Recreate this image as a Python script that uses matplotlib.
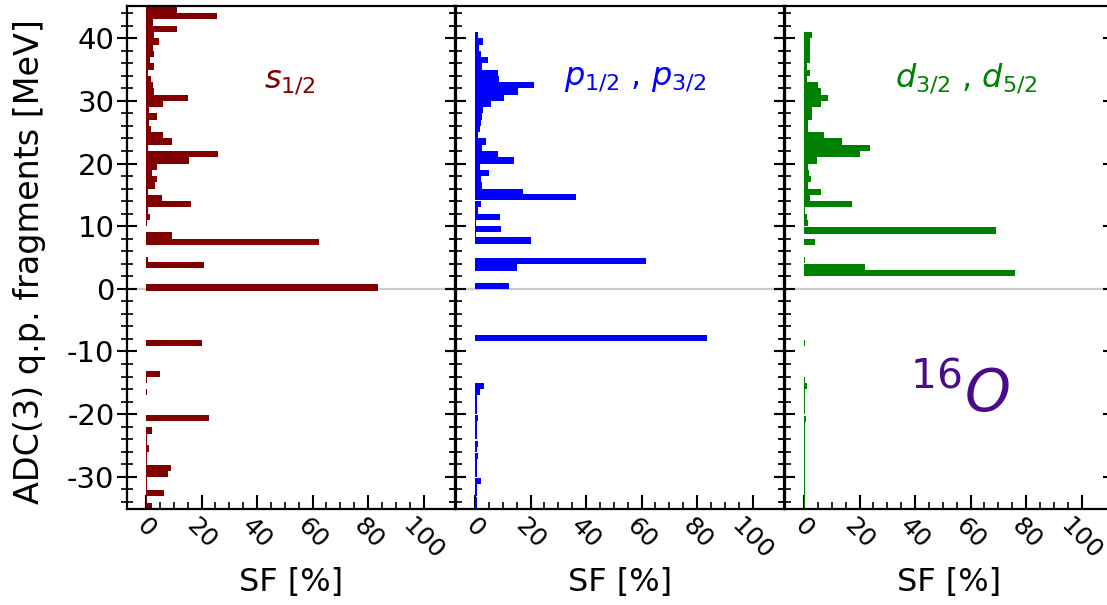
import numpy as np
import matplotlib
matplotlib.use("Agg")
import matplotlib.pyplot as plt
from matplotlib.ticker import FixedLocator, MultipleLocator

# Quasiparticle fragments: energy [MeV] and spectroscopic factor [%]
s_energy = [44.5, 43.5, 42.5, 41.5, 40.5, 39.5, 38.5, 37.5, 36.5, 35.5,
            34.5, 33.5, 32.5, 31.5, 30.5, 29.5, 28.5, 27.5, 26.5, 25.5,
            24.5, 23.5, 22.5, 21.5, 20.5, 19.5, 18.5, 17.5, 16.5, 15.5,
            14.5, 13.5, 12.5, 11.5, 10.5, 8.5, 7.5, 4.6, 3.8, 0.2,
            -8.6, -13.6, -14.6, -16.5, -18.5, -20.6, -22.6, -23.6, -24.6, -25.5,
            -26.6, -27.6, -28.6, -29.6, -30.6, -31.6, -32.6, -33.6, -34.7]
s_sf = [11.3, 25.7, 2.6, 11.3, 2.9, 4.7, 2.4, 2.9, 1.4, 3.0,
        0.8, 1.7, 2.6, 2.9, 15.3, 6.0, 1.2, 3.8, 1.0, 1.7,
        6.2, 9.2, 0.8, 25.8, 15.5, 4.1, 2.0, 3.8, 3.2, 0.8,
        5.9, 16.1, 0.8, 1.4, 0.5, 9.2, 62.3, 0.7, 20.9, 83.7,
        20.1, 5.0, 0.5, 0.2, 0.1, 22.8, 2.0, 0.3, 0.3, 1.2,
        0.2, 0.2, 8.9, 7.8, 0.3, 0.3, 6.5, 0.5, 2.3]

p_energy = [40.5, 39.5, 38.5, 37.5, 36.5, 35.5, 34.5, 33.5, 32.5, 31.5,
            30.5, 29.5, 28.5, 27.5, 26.5, 25.5, 24.5, 23.5, 22.5, 21.5,
            20.5, 19.5, 18.5, 17.5, 16.5, 15.5, 14.6, 13.5, 12.5, 11.5,
            10.5, 9.5, 8.5, 7.7, 4.4, 3.4, 0.4,
            -7.9, -15.5, -16.5, -17.5, -18.5, -19.5, -20.6, -21.5, -22.5, -23.5,
            -24.8, -25.5, -26.7, -27.5, -28.5, -29.5, -30.7, -31.5, -32.5, -33.8,
            -34.6]
p_sf = [1.2, 2.9, 1.4, 2.0, 4.7, 2.4, 8.4, 8.6, 21.3, 15.5,
        10.5, 5.6, 2.9, 2.6, 2.3, 1.7, 1.2, 3.8, 2.6, 8.4,
        14.1, 1.7, 5.0, 2.0, 2.6, 17.3, 36.3, 2.0, 1.2, 8.9,
        0.3, 9.5, 0.3, 20.1, 61.5, 15.3, 12.3,
        83.7, 3.2, 1.7, 0.6, 0.6, 0.6, 1.2, 0.6, 0.6, 0.6,
        1.0, 0.6, 1.2, 0.6, 0.6, 0.6, 2.3, 0.6, 0.6, 0.8,
        0.6]

d_energy = [40.5, 39.5, 38.5, 37.5, 36.5, 35.5, 34.5, 33.5, 32.5, 31.5,
            30.5, 29.5, 28.5, 27.5, 26.5, 25.5, 24.5, 23.5, 22.5, 21.5,
            20.5, 19.5, 18.5, 17.5, 16.5, 15.5, 14.5, 13.5, 12.5, 11.5,
            10.5, 9.3, 7.5, 4.6, 3.5, 2.5,
            -8.6, -14.5, -15.5, -16.5, -17.5, -18.5, -19.5, -20.8, -21.5, -22.5,
            -23.5, -24.5, -25.5, -26.5, -27.5, -28.5, -29.5, -30.5, -31.5, -32.5,
            -33.5, -34.5]
d_sf = [2.9, 2.3, 2.3, 2.3, 2.3, 1.2, 2.0, 1.2, 5.0, 6.2,
        8.6, 6.0, 2.9, 2.9, 1.4, 1.4, 7.2, 13.7, 23.7, 20.1,
        4.7, 1.4, 1.7, 2.4, 1.4, 6.2, 2.3, 17.3, 0.5, 1.2,
        1.4, 69.3, 4.1, 0.5, 22.1, 75.9,
        0.5, 0.5, 1.2, 0.5, 0.5, 0.5, 0.5, 0.6, 0.5, 0.5,
        0.5, 0.5, 0.5, 0.5, 0.5, 0.5, 0.5, 0.5, 0.5, 0.5,
        0.5, 0.5]

sf_ticks = [0, 20, 40, 60, 80, 100]
energy_ticks = [-30, -20, -10, 0, 10, 20, 30, 40]
channel_labels = [r'$s_{1/2}$', r'$p_{1/2}$ , $p_{3/2}$', r'$d_{3/2}$ , $d_{5/2}$']
nucleus_label = r'$^{16}O$'

plt.rcParams['font.family'] = ['DejaVu Sans']
plt.rcParams['mathtext.fontset'] = 'dejavusans'
plt.rcParams['mathtext.default'] = 'it'
plt.rcParams['axes.unicode_minus'] = False

W, H = 1107, 605
fig = plt.figure(figsize=(W / 100, H / 100), dpi=100)

colors = ['#800000', '#0000ff', '#008000']
series = [(s_energy, s_sf), (p_energy, p_sf), (d_energy, d_sf)]
label_pos = [(0.497, 0.852), (0.546, 0.857), (0.552, 0.857)]

left_px = [127, 456, 785]
ax_w = 328
bottom_px, top_px = 509.3, 6.0
ax_h = bottom_px - top_px

for i, ((energy, sf), color) in enumerate(zip(series, colors)):
    ax = fig.add_axes([left_px[i] / W, (H - bottom_px) / H,
                       ax_w / W, ax_h / H])
    ax.axhline(0, color='#cccccc', lw=1.6, zorder=1)
    ax.barh(energy, sf, height=1.0, left=0, color=color, linewidth=0, zorder=2)

    ax.set_xlim(-6.85, 111.35)
    ax.set_ylim(-35.2, 45.15)
    ax.xaxis.set_major_locator(FixedLocator(sf_ticks))
    ax.xaxis.set_minor_locator(FixedLocator(np.arange(0, 101, 5)))
    ax.yaxis.set_major_locator(FixedLocator(energy_ticks))
    ax.yaxis.set_minor_locator(MultipleLocator(2))

    ax.tick_params(axis='y', which='major', direction='inout', length=14,
                   width=1.5, left=True, right=True, labelleft=(i == 0),
                   labelsize=21, pad=2)
    ax.tick_params(axis='y', which='minor', direction='inout', length=8,
                   width=1.2, left=True, right=True)
    ax.tick_params(axis='x', which='major', direction='in', length=10,
                   width=1.5, top=False, labelsize=18, pad=3, labelrotation=-45)
    ax.tick_params(axis='x', which='minor', direction='in', length=5,
                   width=1.2, top=False)
    for sp in ax.spines.values():
        sp.set_linewidth(1.6)

    ax.set_xlabel('SF [%]', fontsize=23)
    ax.xaxis.label.set_va('center')
    ax.xaxis.set_label_coords(0.5, (bottom_px - 582) / ax_h)
    ax.text(*label_pos[i], channel_labels[i], transform=ax.transAxes,
            color=color, fontsize=23, ha='center', va='center')

    if i == 0:
        ax.set_ylabel('ADC(3) q.p. fragments [MeV]', fontsize=24)
        ax.yaxis.label.set_va('center')
        ax.yaxis.set_label_coords(-(left_px[0] - 30) / ax_w,
                                  (bottom_px - 262) / ax_h)
    if i == 2:
        ax.text(0.534, 0.227, nucleus_label, transform=ax.transAxes,
                color='#4a0a8c', fontsize=42, ha='center', va='center')

fig.savefig('out.png', dpi=100)
